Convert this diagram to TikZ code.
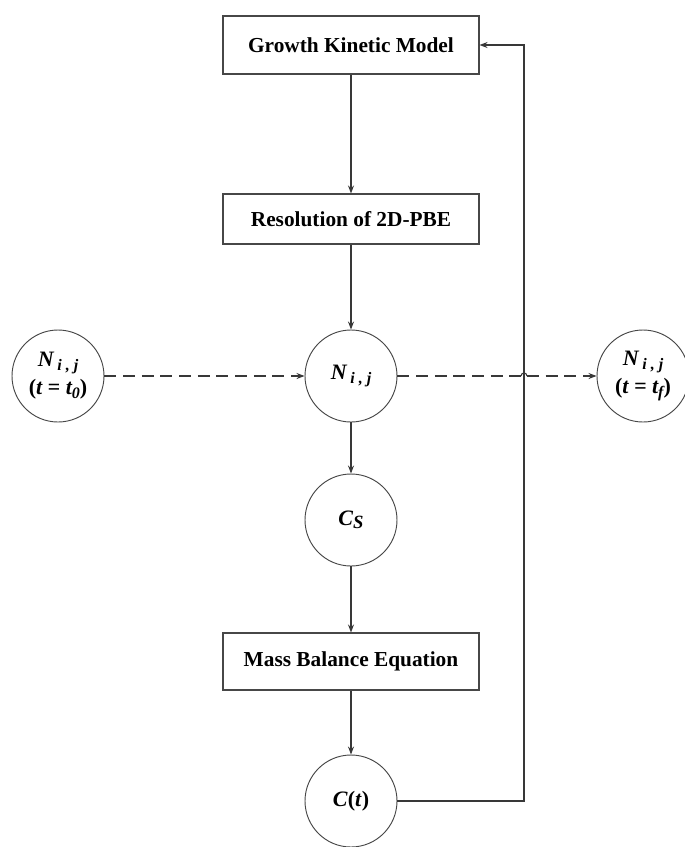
\documentclass[tikz,border=0pt]{standalone}
\usepackage{fontspec}
\setmainfont{Liberation Serif}
\usetikzlibrary{arrows.meta}
\newcommand{\mysub}[1]{\raisebox{-0.35ex}{\fontsize{12}{14}\selectfont #1}}
\begin{document}
\begin{tikzpicture}[x=0.75pt,y=-0.75pt,
  lin/.style={draw=black!78, line width=0.8pt},
  arr/.style={lin,-{Stealth[length=6pt,width=4.5pt]}},
  dsh/.style={dash pattern=on 9pt off 5pt},
  boxnode/.style={draw=black!72, line width=0.8pt, minimum width=192pt, minimum height=43.5pt, inner sep=0pt, font=\fontsize{16}{19}\selectfont\bfseries},
  circnode/.style={circle, draw=black!72, line width=0.7pt, minimum size=69pt, inner sep=0pt, font=\fontsize{16.5}{21}\selectfont\bfseries\itshape, align=center},
]
\useasboundingbox (0,0) rectangle (685,847);
\fill[white] (0,0) rectangle (685,847);
\node[boxnode] (G) at (351,45) {Growth Kinetic Model};
\node[boxnode, minimum height=37.5pt] (R) at (351,219) {Resolution of 2D-PBE};
\node[circnode] (N) at (351,376) {N\,\mysub{i , j}};
\node[circnode] (L) at (58,376) {N\,\mysub{i , j}\\\textup{(}t = t\mysub{0}\textup{)}};
\node[circnode] (Rt) at (643,376) {N\,\mysub{i , j}\\\textup{(}t = t\mysub{f}\textup{)}};
\node[circnode] (Cs) at (351,520) {C\raisebox{-0.3ex}{\fontsize{14}{16}\selectfont S}};
\node[boxnode, minimum height=42.75pt] (M) at (351,661.5) {Mass Balance Equation};
\node[circnode] (Ct) at (351,801) {C\textup{(}t\textup{)}};
\coordinate (fb) at (524,45);
\coordinate (h1) at (521,376);
\coordinate (h2) at (527,376);
\draw[arr] (G) -- (R);
\draw[arr] (R) -- (N);
\draw[arr] (N) -- (Cs);
\draw[arr] (Cs) -- (M);
\draw[arr] (M) -- (Ct);
\draw[arr] (Ct.east) -| (fb) -- (G.east);
\draw[arr, dsh] (L.east) -- (N.west);
\draw[lin, dsh] (N.east) -- (h1);
\draw[lin] (h1) .. controls (521,372) and (527,372) .. (h2);
\draw[arr, dsh] (h2) -- (Rt.west);
\end{tikzpicture}
\end{document}
